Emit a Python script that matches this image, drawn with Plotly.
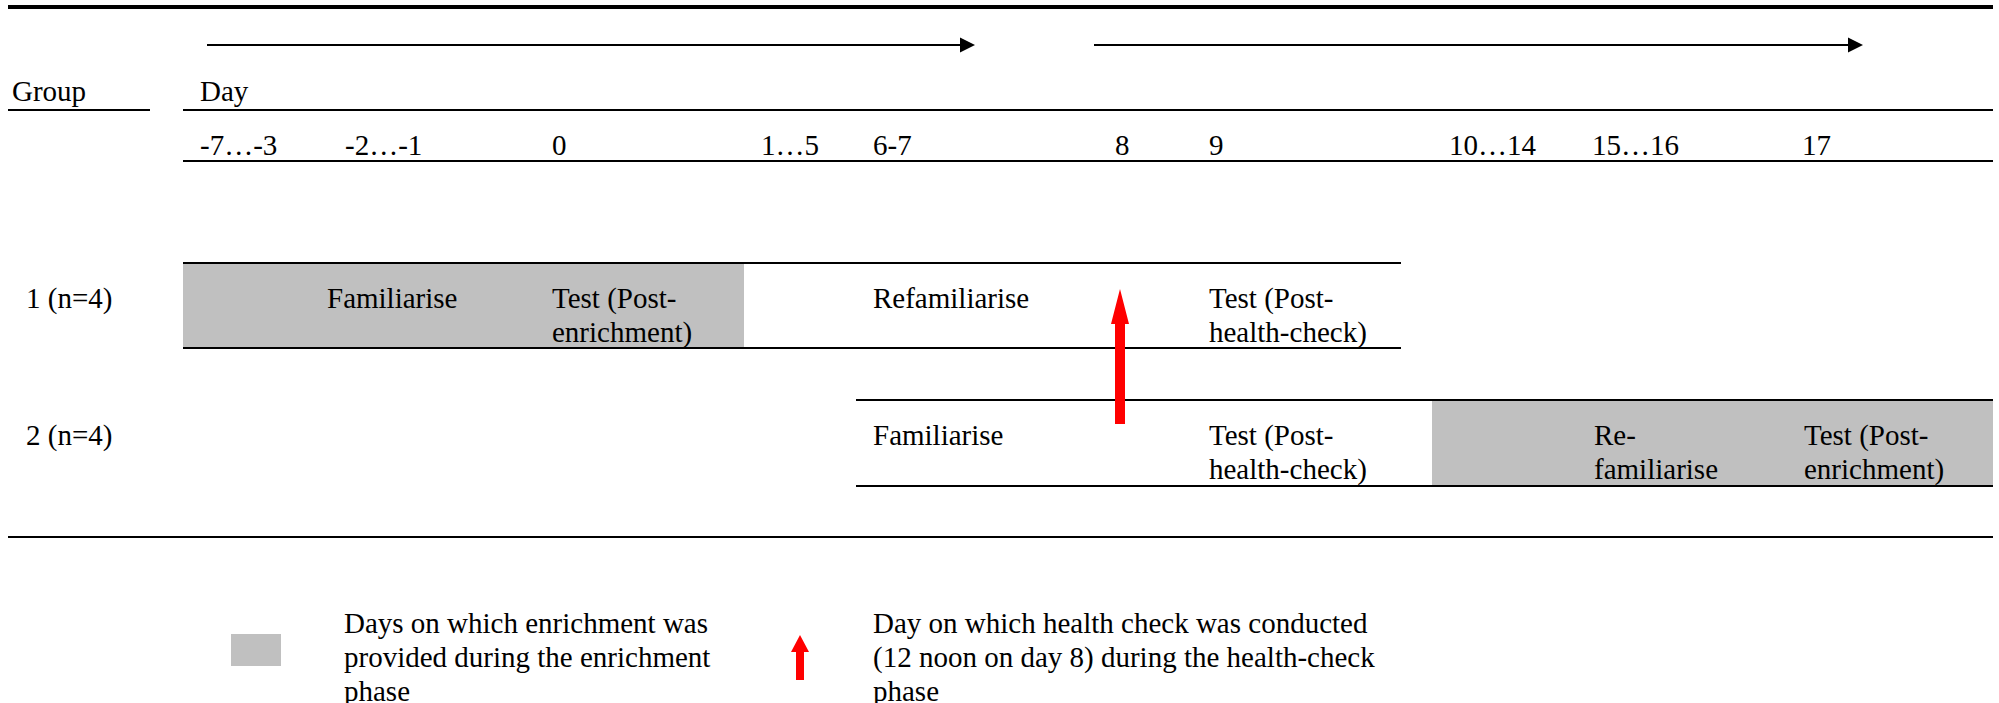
import plotly.graph_objects as go

# ---------------- data ----------------
day_labels = ["-7…-3", "-2…-1", "0", "1…5", "6-7", "8", "9", "10…14", "15…16", "17"]
group_labels = ["1 (n=4)", "2 (n=4)"]

group1_phases = ["Familiarise", "Test (Post-\nenrichment)", "Refamiliarise", "Test (Post-\nhealth-check)"]
group1_phase_cols = [1, 2, 4, 6]
group2_phases = ["Familiarise", "Test (Post-\nhealth-check)", "Re-\nfamiliarise", "Test (Post-\nenrichment)"]
group2_phase_cols = [4, 6, 8, 9]

group1_enrichment_cols = [0, 2]   # first / last day-column with enrichment
group2_enrichment_cols = [7, 9]
health_check_col = 5              # day 8

legend_enrich_text = ["Days on which enrichment was", "provided during the enrichment", "phase"]
legend_health_text = ["Day on which health check was conducted",
                      "(12 noon on day 8) during the health-check", "phase"]

# ---------------- layout constants ----------------
W, H = 1999, 703
FONT = "Liberation Serif, Times New Roman, serif"
FS = 29
GREY = "#C0C0C0"
RED = "#FF0000"
col_edges = [183, 328, 535, 744, 856, 1098, 1192, 1432, 1575, 1785, 1993]
PAD = 15
LEFT, RIGHT = 8, 1993
group1_nudge = [-18, 0, 0, 0]
group2_nudge = [0, 0, 2, 2]
row_top = [263, 400]
row_bot = [348, 486]
row_line1 = [298, 435]
LINE_GAP = 34
group1_row_right = 1401
group2_row_left_col = 4

shapes = []
annotations = []


def hline(x0, x1, y, w=2):
    shapes.append(dict(type="line", xref="x", yref="y", x0=x0, x1=x1, y0=y, y1=y,
                       line=dict(color="black", width=w)))


def rect(x0, x1, y0, y1, color):
    shapes.append(dict(type="rect", xref="x", yref="y", x0=x0, x1=x1, y0=y0, y1=y1,
                       fillcolor=color, line=dict(width=0), layer="below"))


def text(x, y, s, xanchor="left"):
    annotations.append(dict(x=x, y=y, xref="x", yref="y", text=s, showarrow=False,
                            xanchor=xanchor, yanchor="middle",
                            font=dict(family=FONT, size=FS, color="black")))


def right_arrow(x0, x1, y, head_len=15, head_w=15):
    hline(x0, x1 - head_len + 1, y, 2)
    shapes.append(dict(type="path", xref="x", yref="y",
                       path=f"M {x1 - head_len},{y - head_w / 2} L {x1},{y} L {x1 - head_len},{y + head_w / 2} Z",
                       fillcolor="black", line=dict(width=0)))


def up_arrow(xc, y_tip, y_base, head_len, head_w, shaft_w):
    hb = y_tip + head_len
    p = (f"M {xc},{y_tip} L {xc + head_w / 2},{hb} L {xc + shaft_w / 2},{hb} "
         f"L {xc + shaft_w / 2},{y_base} L {xc - shaft_w / 2},{y_base} "
         f"L {xc - shaft_w / 2},{hb} L {xc - head_w / 2},{hb} Z")
    shapes.append(dict(type="path", xref="x", yref="y", path=p,
                       fillcolor=RED, line=dict(width=0)))


# ---- header ----
hline(LEFT, RIGHT, 7, 4)
right_arrow(207, 975, 45)
right_arrow(1094, 1863, 45)
text(10, 91, "Group")
hline(LEFT, 150, 110)
text(col_edges[0] + PAD, 91, "Day")
hline(col_edges[0], RIGHT, 110)
for i, lab in enumerate(day_labels):
    text(col_edges[i] + PAD, 145, lab)
hline(col_edges[0], RIGHT, 161)

# ---- enrichment shading ----
rect(col_edges[group1_enrichment_cols[0]], col_edges[group1_enrichment_cols[1] + 1],
     row_top[0], row_bot[0], GREY)
rect(col_edges[group2_enrichment_cols[0]], col_edges[group2_enrichment_cols[1] + 1],
     row_top[1], row_bot[1], GREY)

# ---- group rows ----
hline(col_edges[0], group1_row_right, row_top[0])
hline(col_edges[0], group1_row_right, row_bot[0])
hline(col_edges[group2_row_left_col], RIGHT, row_top[1])
hline(col_edges[group2_row_left_col], RIGHT, row_bot[1])

for gi, (phases, cols, nudge) in enumerate([(group1_phases, group1_phase_cols, group1_nudge),
                                             (group2_phases, group2_phase_cols, group2_nudge)]):
    text(24, row_line1[gi], group_labels[gi])
    for ph, c, dx in zip(phases, cols, nudge):
        for li, line in enumerate(ph.split("\n")):
            text(col_edges[c] + PAD + dx, row_line1[gi] + li * LINE_GAP, line)

# health check arrow (day 8)
hc_x = col_edges[health_check_col] + 22
up_arrow(hc_x, 289, 424, 35, 18, 10)

hline(LEFT, RIGHT, 537)

# ---- legend ----
rect(231, 281, 634, 666, GREY)
for li, line in enumerate(legend_enrich_text):
    text(342, 623 + li * LINE_GAP, line)
up_arrow(800, 635, 680, 17, 18, 8)
for li, line in enumerate(legend_health_text):
    text(871, 623 + li * LINE_GAP, line)

fig = go.Figure()
fig.update_layout(
    width=W, height=H,
    margin=dict(l=0, r=0, t=0, b=0),
    paper_bgcolor="white", plot_bgcolor="white",
    xaxis=dict(range=[0, W], visible=False, fixedrange=True),
    yaxis=dict(range=[H, 0], visible=False, fixedrange=True),
    shapes=shapes, annotations=annotations, showlegend=False,
)
fig.write_html("out.html", config={"displayModeBar": False},
               post_script="document.body.style.margin='0';document.body.style.overflow='hidden';")
